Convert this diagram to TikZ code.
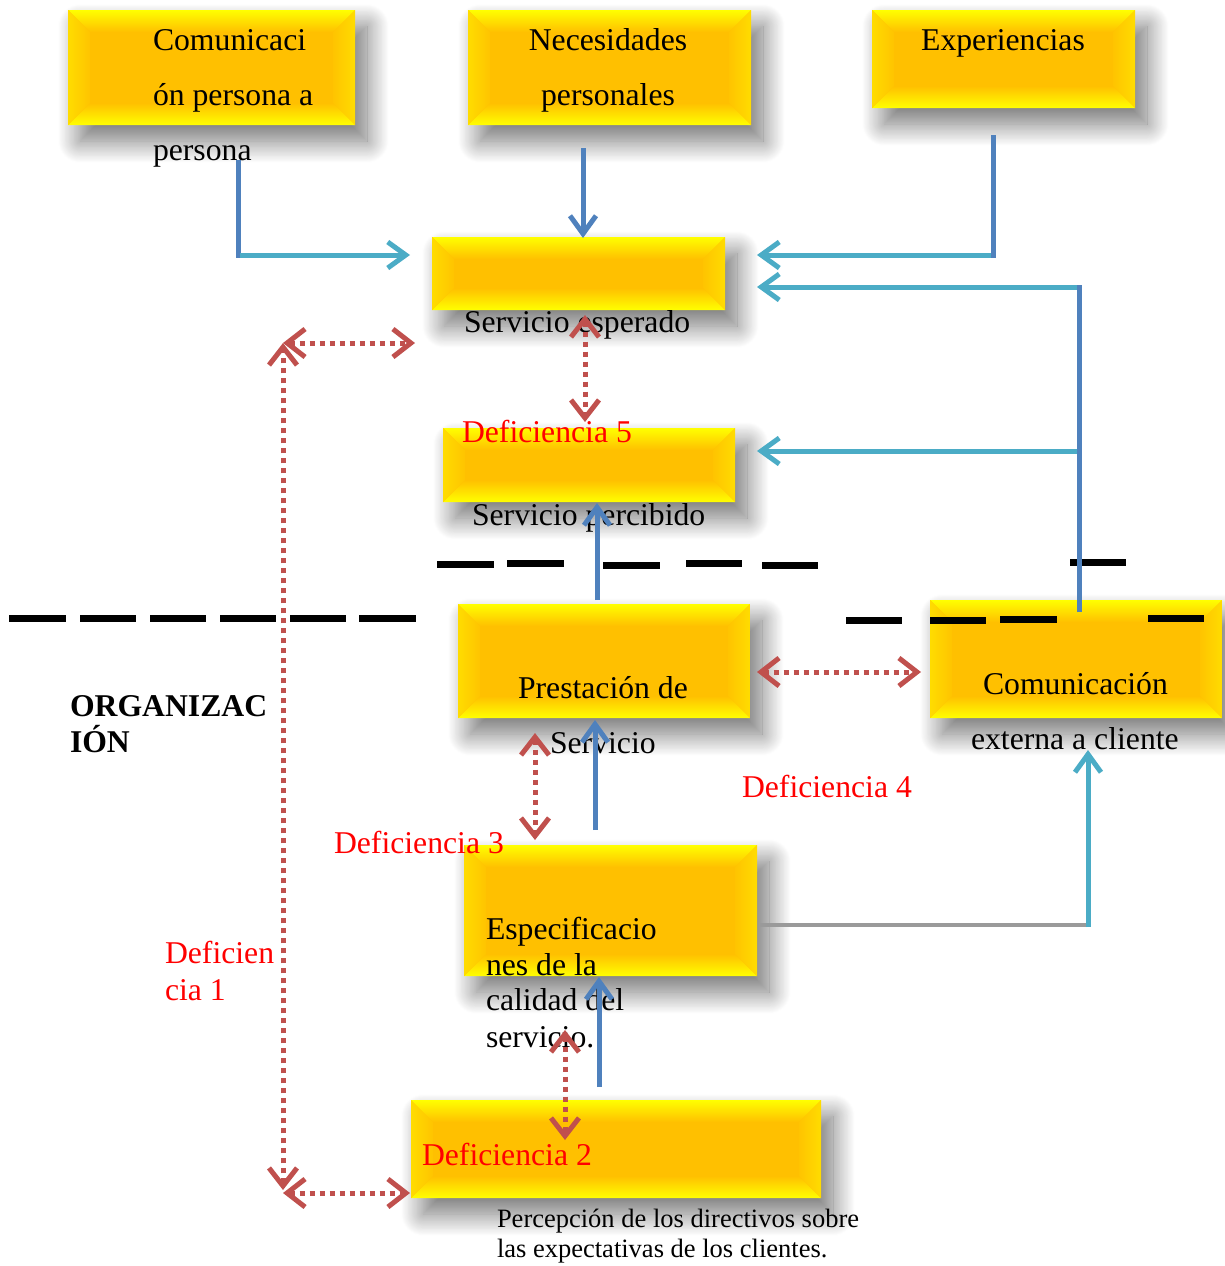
\documentclass[tikz,border=0pt]{standalone}
\usepackage{fontspec}
\setmainfont{Liberation Serif}
\usetikzlibrary{arrows.meta,shadows.blur,calc}
\definecolor{gold}{HTML}{FFC000}
\definecolor{yel}{HTML}{FFFF00}
\definecolor{sidel}{HTML}{FFDC00}
\definecolor{sider}{HTML}{FFC400}
\definecolor{lblue}{HTML}{4F81BD}
\definecolor{lcyan}{HTML}{4BACC6}
\definecolor{lred}{HTML}{C0504D}
\definecolor{lgray}{HTML}{9A9A9A}
\newlength\bev \setlength\bev{22pt}
\tikzset{
  goldbox/.style={rectangle, inner sep=0pt, outer sep=0pt, anchor=north west, fill=gold,
    blur shadow={shadow xshift=12pt, shadow yshift=-16pt, shadow blur radius=22pt, shadow blur steps=25, shadow opacity=55},
    path picture={
      \coordinate (pp1) at (path picture bounding box.north west);
      \coordinate (pp2) at (path picture bounding box.south east);
      \shade[top color=yel,bottom color=gold] let \p1=(pp1),\p2=(pp2) in
        (\x1,\y1) -- (\x2,\y1) -- (\x2-\bev,\y1-\bev) -- (\x1+\bev,\y1-\bev) -- cycle;
      \shade[top color=gold,bottom color=yel] let \p1=(pp1),\p2=(pp2) in
        (\x1,\y2) -- (\x2,\y2) -- (\x2-\bev,\y2+\bev) -- (\x1+\bev,\y2+\bev) -- cycle;
      \shade[left color=sidel,right color=sider] let \p1=(pp1),\p2=(pp2) in
        (\x1,\y1) -- (\x1+\bev,\y1-\bev) -- (\x1+\bev,\y2+\bev) -- (\x1,\y2) -- cycle;
      \shade[left color=sider,right color=sidel] let \p1=(pp1),\p2=(pp2) in
        (\x2,\y1) -- (\x2-\bev,\y1-\bev) -- (\x2-\bev,\y2+\bev) -- (\x2,\y2) -- cycle;
    }},
  txt/.style={inner sep=0pt, outer sep=0pt, anchor=base west, font=\fontsize{31.7}{38}\selectfont},
  ctxt/.style={txt, anchor=base},
  redtxt/.style={txt, text=red},
  smalltxt/.style={txt, font=\fontsize{26.5}{32}\selectfont},
  tipb/.style={-{Straight Barb[length=18pt,width=26pt,line width=5pt]}},
  blueline/.style={draw=lblue, line width=5pt},
  bluearrow/.style={blueline, tipb},
  cyanline/.style={draw=lcyan, line width=5pt},
  cyanarrow/.style={cyanline, tipb},
  reddouble/.style={draw=lred, line width=5pt, dash pattern=on 5pt off 5pt,
    {Straight Barb[length=18pt,width=28pt,line width=5pt]}-{Straight Barb[length=18pt,width=28pt,line width=5pt]}},
  blackdash/.style={draw=black, line width=7pt},
}
\begin{document}
\begin{tikzpicture}[x=1pt,y=-1pt]
\useasboundingbox (0,0) rectangle (1224,1266);
% boxes
\node[goldbox, minimum width=287pt, minimum height=115pt] (c1) at (68,10) {};
\node[goldbox, minimum width=283pt, minimum height=115pt] (c2) at (468,10) {};
\node[goldbox, minimum width=263pt, minimum height=98pt] (c3) at (872,10) {};
\node[goldbox, minimum width=293pt, minimum height=73pt] (se) at (432,237) {};
\node[goldbox, minimum width=292pt, minimum height=74pt] (sp) at (443,428) {};
\node[goldbox, minimum width=292pt, minimum height=114pt] (ps) at (458,604) {};
\node[goldbox, minimum width=292pt, minimum height=118pt] (ce) at (930,600) {};
\node[goldbox, minimum width=293pt, minimum height=131pt] (es) at (464,845) {};
\node[goldbox, minimum width=410pt, minimum height=98pt] (pd) at (411,1100) {};
% dashed separators
\foreach \a/\b/\y in {437/494/564, 507/564/563, 603/660/565, 686/742/563, 762/818/565, 1070/1126/562,
  9/66/618, 80/136/618, 150/206/618, 220/276/618, 290/346/618, 359/416/618,
  846/902/620, 930/986/620, 1000/1057/619, 1148/1204/618}
  \draw[blackdash] (\a,\y) -- (\b,\y);
% texts
\node[txt] (t1a) at (153,50) {Comunicaci};
\node[txt] (t1b) at (153,105) {ón persona a};
\node[txt] (t1c) at (153,160) {persona};
\node[ctxt] (t2a) at (608,50) {Necesidades};
\node[ctxt] (t2b) at (608,105) {personales};
\node[ctxt] (t3) at (1003,50) {Experiencias};
\node[txt] (tse) at (464,332) {Servicio esperado};
\node[redtxt] (d5) at (462,442) {Deficiencia 5};
\node[txt] (tsp) at (472,525) {Servicio percibido};
\node[txt] (tpsa) at (518,698) {Prestación de};
\node[txt] (tpsb) at (550,753) {Servicio};
\node[txt] (tcea) at (983,694) {Comunicación};
\node[txt] (tceb) at (971,749) {externa a cliente};
\node[txt, font=\fontsize{31.7}{38}\selectfont\bfseries] (orga) at (70,716) {ORGANIZAC};
\node[txt, font=\fontsize{31.7}{38}\selectfont\bfseries] (orgb) at (70,752) {IÓN};
\node[redtxt] (d4) at (742,797) {Deficiencia 4};
\node[redtxt] (d3) at (334,853) {Deficiencia 3};
\node[redtxt] (d1a) at (165,963) {Deficien};
\node[redtxt] (d1b) at (165,1000) {cia 1};
\node[txt] (tesa) at (486,939) {Especificacio};
\node[txt] (tesb) at (486,975) {nes de la};
\node[txt] (tesc) at (486,1010) {calidad del};
\node[txt] (tesd) at (486,1047) {servicio.};
\node[redtxt] (d2) at (422,1165) {Deficiencia 2};
\node[smalltxt] (tpda) at (497,1227) {Percepción de los directivos sobre};
\node[smalltxt] (tpdb) at (497,1257) {las expectativas de los clientes.};
% connector end points
\coordinate (a1s) at (238,160); \coordinate (a1c) at (238,255); \coordinate (a1e) at (410,255);
\coordinate (a2s) at (583,148); \coordinate (a2e) at (583,238);
\coordinate (a3s) at (993,135); \coordinate (a3c) at (993,255); \coordinate (a3e) at (757,255);
\coordinate (a4s) at (1079,612); \coordinate (a4c) at (1079,287); \coordinate (a4e) at (757,287);
\coordinate (a4m) at (1079,451); \coordinate (a4f) at (757,451);
\coordinate (a5s) at (597,600); \coordinate (a5e) at (597,503);
\coordinate (a6s) at (595,830); \coordinate (a6e) at (595,720);
\coordinate (a7s) at (599,1087); \coordinate (a7e) at (599,977);
\coordinate (a8s) at (760,925); \coordinate (a8c) at (1088,925); \coordinate (a8e) at (1088,750);
\coordinate (r1s) at (585,315); \coordinate (r1e) at (585,422);
\coordinate (r2t) at (283,343); \coordinate (r2b) at (283,1190);
\coordinate (r2h) at (415,343); \coordinate (r2bl) at (283,1193); \coordinate (r2hb) at (410,1193);
\coordinate (r3s) at (535,733); \coordinate (r3e) at (535,840);
\coordinate (r4s) at (757,672); \coordinate (r4e) at (921,672);
\coordinate (r5s) at (565,1030); \coordinate (r5e) at (565,1140);
% blue / cyan connectors
\draw[blueline] (a1s) -- ([yshift=-2.5pt]a1c);
\draw[cyanarrow] ([xshift=2pt]a1c) -- (a1e);
\draw[bluearrow] (a2s) -- (a2e);
\draw[blueline] (a3s) -- ([yshift=-2.5pt]a3c);
\draw[cyanarrow] ([xshift=-2pt]a3c) -- (a3e);
\draw[blueline] (a4s) -- ([yshift=2.5pt]a4c);
\draw[cyanarrow] ([xshift=-2pt]a4c) -- (a4e);
\draw[cyanarrow] ([xshift=-2pt]a4m) -- (a4f);
\draw[bluearrow] (a5s) -- (a5e);
\draw[bluearrow] (a6s) -- (a6e);
\draw[bluearrow] (a7s) -- (a7e);
\draw[draw=lgray, line width=4pt] (a8s) -- (a8c);
\draw[cyanarrow] ([yshift=-2pt]a8c) -- (a8e);
% red gaps
\draw[reddouble] (r1s) -- (r1e);
\draw[reddouble] (r2b) -- (r2t);
\draw[reddouble] (r2t) -- (r2h);
\draw[reddouble] (r2bl) -- (r2hb);
\draw[reddouble] (r3s) -- (r3e);
\draw[reddouble] (r4s) -- (r4e);
\draw[reddouble] (r5s) -- (r5e);
\end{tikzpicture}
\end{document}
